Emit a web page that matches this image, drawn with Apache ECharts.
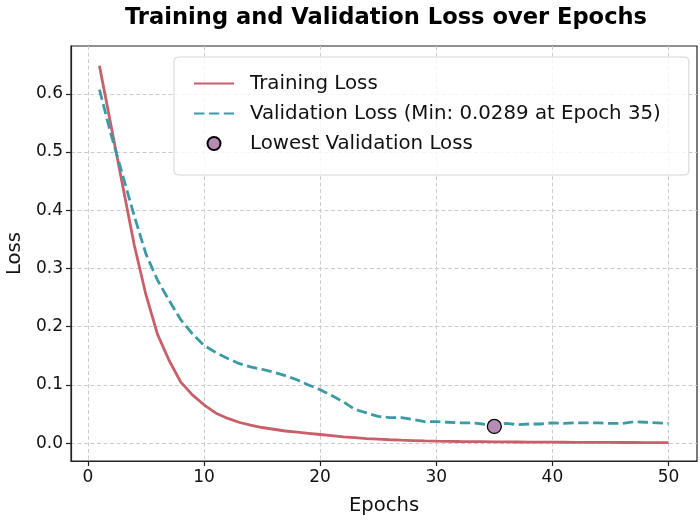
<!DOCTYPE html>
<html>
<head>
<meta charset="utf-8">
<script src="https://cdn.jsdelivr.net/npm/echarts@6/dist/echarts.min.js"></script>
<style>
  html, body { margin: 0; padding: 0; background: #fff; }
  #chart { width: 700px; height: 522px; }
</style>
</head>
<body>
<div id="chart"></div>
<script>
// epochs 1..50
const epochs = Array.from({ length: 50 }, (v, i) => i + 1);

const trainLoss = [
  0.648, 0.545, 0.442, 0.340, 0.255, 0.187, 0.142, 0.105, 0.083, 0.066,
  0.052, 0.043, 0.036, 0.031, 0.027, 0.024, 0.021, 0.019, 0.017, 0.015,
  0.013, 0.011, 0.0095, 0.008, 0.007, 0.006, 0.0052, 0.0046, 0.0040, 0.0036,
  0.0033, 0.0030, 0.0028, 0.0026, 0.0024, 0.0022, 0.0021, 0.0020, 0.0019, 0.0018,
  0.0017, 0.0016, 0.0015, 0.0015, 0.0014, 0.0013, 0.0013, 0.0012, 0.0012, 0.0011
];

const valLoss = [
  0.607, 0.530, 0.460, 0.390, 0.325, 0.280, 0.245, 0.212, 0.188, 0.168,
  0.156, 0.146, 0.137, 0.131, 0.127, 0.122, 0.116, 0.109, 0.100, 0.092,
  0.082, 0.071, 0.058, 0.052, 0.046, 0.044, 0.044, 0.041, 0.037, 0.037,
  0.036, 0.035, 0.035, 0.033, 0.0289, 0.034, 0.032, 0.033, 0.033, 0.035,
  0.034, 0.035, 0.035, 0.035, 0.034, 0.034, 0.037, 0.036, 0.035, 0.034
];

const minEpoch = 35;
const minLoss = 0.0289;

const xTicks = [0, 10, 20, 30, 40, 50];
const yTicks = [0, 0.1, 0.2, 0.3, 0.4, 0.5, 0.6];

const FONT = "DejaVu Sans";
const RED = "#c85f69";
const TEAL = "#3a9ba6";
const PURPLE = "#b58db3";

const chart = echarts.init(document.getElementById("chart"));

const gridLine = { show: true, lineStyle: { color: "#cccccc", type: [4, 2.5], width: 1 } };
// hide the symbol that line series draw in their legend icon
const noSymbol = { color: "transparent", borderWidth: 0 };

chart.setOption({
  animation: false,
  backgroundColor: "#ffffff",
  textStyle: { fontFamily: FONT },
  title: {
    text: "Training and Validation Loss over Epochs",
    left: 381,
    top: 2,
    textAlign: "center",
    textStyle: { fontFamily: FONT, fontWeight: "bold", fontSize: 22.6, color: "#000" }
  },
  grid: {
    left: 71, right: 3, top: 46, bottom: 61,
    outerBoundsMode: "none",
    containLabel: false,
    show: true, borderColor: "#222", borderWidth: 1.2, backgroundColor: "transparent"
  },
  legend: {
    orient: "vertical",
    left: 174,
    top: 57,
    padding: [16, 28, 21, 19],
    itemWidth: 40,
    itemHeight: 13,
    itemGap: 9,
    backgroundColor: "rgba(255,255,255,0.8)",
    borderColor: "#d4d4d4",
    borderWidth: 1,
    borderRadius: 4,
    textStyle: { fontFamily: FONT, fontSize: 19.8, color: "#111", lineHeight: 21, padding: [0, 0, 0, 11] },
    data: [
      { name: "Training Loss", itemStyle: noSymbol },
      { name: "Validation Loss (Min: 0.0289 at Epoch 35)", itemStyle: noSymbol },
      { name: "Lowest Validation Loss", icon: "circle" }
    ]
  },
  xAxis: {
    type: "value",
    min: -1.45,
    max: 52.45,
    name: "Epochs",
    nameLocation: "middle",
    nameGap: 35,
    nameTextStyle: { fontFamily: FONT, fontSize: 19.6, color: "#111" },
    axisLine: { show: true, onZero: false, lineStyle: { color: "#222", width: 1.2 } },
    axisTick: { show: true, length: 5, customValues: xTicks, lineStyle: { color: "#222", width: 1.2 } },
    axisLabel: { customValues: xTicks, fontFamily: FONT, fontSize: 17, color: "#111", margin: 8 },
    splitLine: gridLine
  },
  yAxis: {
    type: "value",
    min: -0.0305,
    max: 0.682,
    name: "Loss",
    nameLocation: "middle",
    nameGap: 46,
    nameTextStyle: { fontFamily: FONT, fontSize: 19.6, color: "#111" },
    axisLine: { show: true, onZero: false, lineStyle: { color: "#222", width: 1.2 } },
    axisTick: { show: true, length: 5, customValues: yTicks, lineStyle: { color: "#222", width: 1.2 } },
    axisLabel: {
      customValues: yTicks, fontFamily: FONT, fontSize: 17, color: "#111", margin: 8,
      formatter: (v) => v.toFixed(1)
    },
    splitLine: gridLine
  },
  series: [
    {
      name: "Training Loss",
      type: "line",
      symbol: "none",
      data: epochs.map((e, i) => [e, trainLoss[i]]),
      lineStyle: { color: RED, width: 2.8 },
      itemStyle: { color: RED },
      z: 3
    },
    {
      name: "Validation Loss (Min: 0.0289 at Epoch 35)",
      type: "line",
      symbol: "none",
      data: epochs.map((e, i) => [e, valLoss[i]]),
      lineStyle: { color: TEAL, width: 2.8, type: [10.4, 4.5] },
      itemStyle: { color: TEAL },
      z: 3
    },
    {
      name: "Lowest Validation Loss",
      type: "scatter",
      symbol: "circle",
      symbolSize: 14,
      data: [[minEpoch, minLoss]],
      itemStyle: { color: PURPLE, borderColor: "#000", borderWidth: 1.3, opacity: 1 },
      z: 5
    }
  ]
});
</script>
</body>
</html>
